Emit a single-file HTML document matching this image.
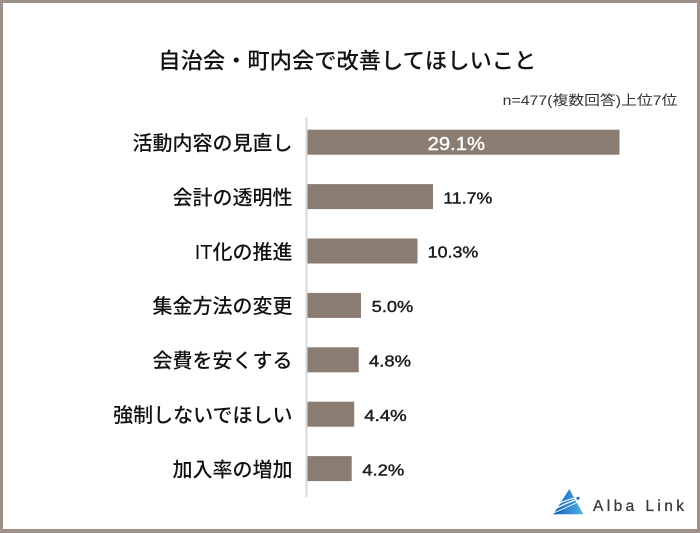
<!DOCTYPE html>
<html>
<head>
<meta charset="utf-8">
<style>
html,body{margin:0;padding:0;background:#fff;}
svg{display:block;}
</style>
</head>
<body>
<svg width="700" height="533" viewBox="0 0 700 533" xmlns="http://www.w3.org/2000/svg">
  <defs>
    <linearGradient id="lg" x1="0" y1="0" x2="1" y2="0">
      <stop offset="0" stop-color="#1458b0"/>
      <stop offset="1" stop-color="#4cb6ea"/>
    </linearGradient>
  </defs>
  <rect x="0" y="0" width="700" height="533" fill="#ffffff"/>
  <!-- frame -->
  <rect x="0" y="0" width="700" height="3" fill="#9d9089"/>
  <rect x="0" y="0" width="3" height="533" fill="#9d9089"/>
  <rect x="697" y="0" width="3" height="533" fill="#9d9089"/>
  <rect x="0" y="529" width="700" height="4" fill="#9d9089"/>

  <!-- title -->
  <text x="158.3" y="68.5" font-family="'Liberation Sans','Noto Sans CJK JP',sans-serif" font-size="22" font-weight="500" fill="#111" textLength="378" lengthAdjust="spacingAndGlyphs">自治会・町内会で改善してほしいこと</text>
  <text x="502.7" y="105" font-family="'Liberation Sans','Noto Sans CJK JP',sans-serif" font-size="13.5" fill="#333" textLength="174.6" lengthAdjust="spacingAndGlyphs">n=477(複数回答)上位7位</text>

  <!-- axis -->
  <rect x="305.5" y="117" width="2" height="380" fill="#d9d9d9"/>

  <!-- bars -->
  <g fill="#8b7c72">
    <rect x="307.5" y="129.7" width="312" height="25"/>
    <rect x="307.5" y="184.1" width="125.5" height="25"/>
    <rect x="307.5" y="238.5" width="110" height="25"/>
    <rect x="307.5" y="292.9" width="53.5" height="25"/>
    <rect x="307.5" y="347.3" width="51.2" height="25"/>
    <rect x="307.5" y="401.7" width="46.7" height="25"/>
    <rect x="307.5" y="456.1" width="44.2" height="25"/>
  </g>

  <!-- category labels -->
  <g font-family="'Liberation Sans','Noto Sans CJK JP',sans-serif" font-size="20" font-weight="500" fill="#111" text-anchor="end">
    <text x="292.5" y="150">活動内容の見直し</text>
    <text x="292.5" y="204.5">会計の透明性</text>
    <text x="292.5" y="258.8">IT化の推進</text>
    <text x="292.5" y="313.2">集金方法の変更</text>
    <text x="292.5" y="367.6">会費を安くする</text>
    <text x="292.5" y="422">強制しないでほしい</text>
    <text x="292.5" y="476.4">加入率の増加</text>
  </g>

  <!-- values -->
  <g font-family="'Liberation Sans','DejaVu Sans',sans-serif" fill="#1a1a1a" stroke="#1a1a1a" stroke-width="0.4">
    <text x="427.7" y="150" font-size="18" fill="#ffffff" stroke="#ffffff" textLength="57.3" lengthAdjust="spacingAndGlyphs">29.1%</text>
    <text x="443.3" y="203.3" font-size="16" textLength="49" lengthAdjust="spacingAndGlyphs">11.7%</text>
    <text x="427.7" y="257.3" font-size="16" textLength="50.6" lengthAdjust="spacingAndGlyphs">10.3%</text>
    <text x="371.7" y="312.2" font-size="16" textLength="41.6" lengthAdjust="spacingAndGlyphs">5.0%</text>
    <text x="369" y="366.6" font-size="16" textLength="42" lengthAdjust="spacingAndGlyphs">4.8%</text>
    <text x="364.3" y="421" font-size="16" textLength="42.4" lengthAdjust="spacingAndGlyphs">4.4%</text>
    <text x="362.3" y="475.4" font-size="16" textLength="42" lengthAdjust="spacingAndGlyphs">4.2%</text>
  </g>

  <!-- logo -->
  <polygon points="569.3,489 553.3,514.3 583.3,514.3" fill="url(#lg)"/>
  <path d="M555,509 Q566,503 578,499" stroke="#fff" stroke-width="1.2" fill="none"/>
  <path d="M557,505 Q565,500 575,498" stroke="#fff" stroke-width="1" fill="none"/>
  <path d="M553.5,513 Q568,507 580,501" stroke="#fff" stroke-width="0.9" fill="none"/>
  <circle cx="578" cy="498.3" r="1.6" fill="#1f6fc4"/>
  <text x="593" y="511" font-family="'Liberation Sans',sans-serif" font-size="15.5" fill="#3a3a3a" stroke="#3a3a3a" stroke-width="0.3" textLength="91" lengthAdjust="spacing">Alba Link</text>
</svg>
</body>
</html>
